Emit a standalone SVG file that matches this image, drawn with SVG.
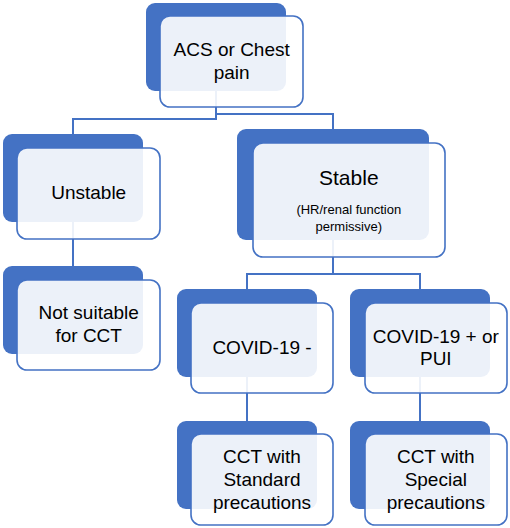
<svg xmlns="http://www.w3.org/2000/svg" width="510" height="528" viewBox="0 0 510 528">
<style>
.back{fill:#4472C4;}
.front{fill:#ffffff;fill-opacity:0.9;stroke:#4472C4;stroke-width:1.6;}
.conn{fill:none;stroke:#4472C4;stroke-width:2;}
text{font-family:"Liberation Sans",Arial,sans-serif;font-size:19px;fill:#000;text-anchor:middle;}
.big{font-size:21px;}
.small{font-size:13px;}
</style>
<rect width="510" height="528" fill="#ffffff"/>
<g id="connectors">
<path class="conn" d="M216,91 V119 H73 V134"/>
<path class="conn" d="M216,110 V114 H333 V129"/>
<path class="conn" d="M73,222 V266"/>
<path class="conn" d="M333,240 V274 H247 V289"/>
<path class="conn" d="M333,274 H420 V289"/>
<path class="conn" d="M247,377 V421"/>
<path class="conn" d="M420,377 V421"/>
</g>
<g id="node-acs">
<rect class="back" x="146" y="3" width="140" height="88" rx="9"/>
<rect class="front" x="160" y="16" width="143" height="91" rx="10"/>
<text x="231.7" y="56">ACS or Chest</text>
<text x="231.7" y="79">pain</text>
</g>
<g id="node-unstable">
<rect class="back" x="3" y="134" width="140" height="88" rx="9"/>
<rect class="front" x="17" y="148" width="143" height="91" rx="10"/>
<text x="88.7" y="199.3">Unstable</text>
</g>
<g id="node-notsuitable">
<rect class="back" x="3" y="266" width="140" height="88" rx="9"/>
<rect class="front" x="17" y="280" width="143" height="90" rx="10"/>
<text x="88.7" y="319.3">Not suitable</text>
<text x="88.7" y="341.7">for CCT</text>
</g>
<g id="node-stable">
<rect class="back" x="237" y="129" width="192" height="111" rx="9"/>
<rect class="front" x="253" y="143" width="192" height="114" rx="10"/>
<text class="big" x="348.8" y="185">Stable</text>
<text class="small" x="348.8" y="214.3">(HR/renal function</text>
<text class="small" x="348.8" y="231">permissive)</text>
</g>
<g id="node-covid-neg">
<rect class="back" x="177" y="289" width="140" height="88" rx="9"/>
<rect class="front" x="191" y="303" width="142" height="90" rx="10"/>
<text x="262" y="354">COVID-19 -</text>
</g>
<g id="node-covid-pos">
<rect class="back" x="350" y="289" width="140" height="88" rx="9"/>
<rect class="front" x="365" y="303" width="142" height="90" rx="10"/>
<text x="435.8" y="342.7">COVID-19 + or</text>
<text x="435.8" y="365">PUI</text>
</g>
<g id="node-cct-standard">
<rect class="back" x="177" y="421" width="140" height="88" rx="9"/>
<rect class="front" x="191" y="434" width="142" height="91" rx="10"/>
<text x="262" y="462.7">CCT with</text>
<text x="262" y="486">Standard</text>
<text x="262" y="509.3">precautions</text>
</g>
<g id="node-cct-special">
<rect class="back" x="350" y="421" width="140" height="88" rx="9"/>
<rect class="front" x="365" y="434" width="142" height="91" rx="10"/>
<text x="435.8" y="462.7">CCT with</text>
<text x="435.8" y="486">Special</text>
<text x="435.8" y="509.3">precautions</text>
</g>
</svg>
